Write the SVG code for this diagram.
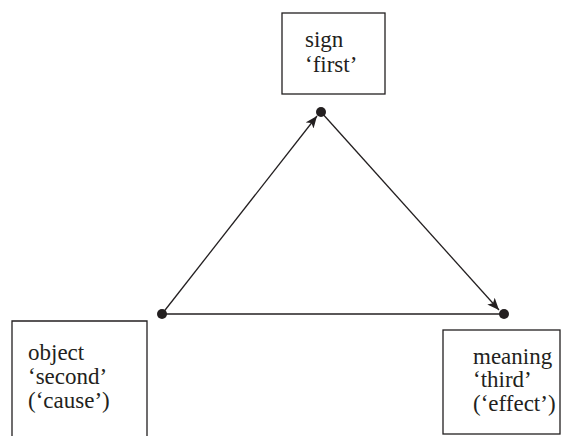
<svg xmlns="http://www.w3.org/2000/svg" width="575" height="436" viewBox="0 0 575 436">
<style>
.box{fill:#fff;stroke:#231f20;stroke-width:1.3}
.t{font-family:'Liberation Serif','Times New Roman',serif;font-size:23px;fill:#231f20}
.ln{stroke:#231f20;stroke-width:1.3;fill:none}
.dot{fill:#231f20}
</style>
<defs>
<marker id="ah" viewBox="0 0 12 10" refX="12" refY="5" markerWidth="12" markerHeight="10" markerUnits="userSpaceOnUse" orient="auto">
<path d="M0,0 L12,5 L0,10 L3,5 Z" fill="#231f20"/>
</marker>
</defs>
<rect width="575" height="436" fill="#fff"/>
<g id="connectors">
<line class="ln" x1="162" y1="314" x2="317" y2="116" marker-end="url(#ah)"/>
<line class="ln" x1="321" y1="112" x2="499" y2="310" marker-end="url(#ah)"/>
<line class="ln" x1="162" y1="314" x2="504" y2="314"/>
<circle class="dot" cx="321" cy="112" r="5"/>
<circle class="dot" cx="162" cy="314" r="5"/>
<circle class="dot" cx="504" cy="314" r="5"/>
</g>
<g id="sign">
<rect class="box" x="282" y="13" width="103" height="81"/>
<text class="t" x="305" y="47">sign</text>
<text class="t" x="305" y="72">‘first’</text>
</g>
<g id="object">
<path class="box" d="M12,437 V321 H147 V437"/>
<text class="t" x="28" y="360">object</text>
<text class="t" x="28" y="384">‘second’</text>
<text class="t" x="28" y="408">(‘cause’)</text>
</g>
<g id="meaning">
<rect class="box" x="443" y="330" width="117" height="104"/>
<text class="t" x="473" y="364">meaning</text>
<text class="t" x="473" y="387">‘third’</text>
<text class="t" x="473" y="411">(‘effect’)</text>
</g>
</svg>
